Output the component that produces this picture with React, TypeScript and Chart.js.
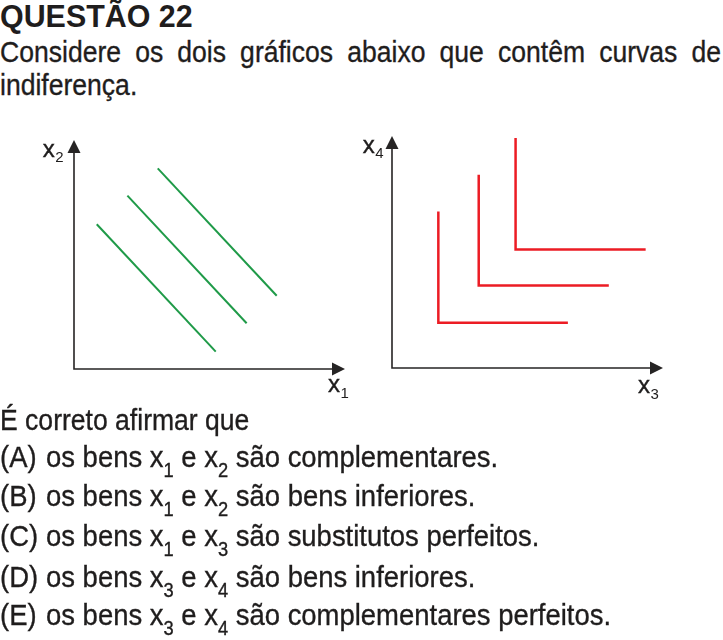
import React, { useEffect, useRef } from "react";
import { Chart, registerables } from "chart.js";

Chart.register(...registerables);

// ---------- text content ----------
const questionTitle = "QUESTÃO 22";
const introLines = [
  "Considere os dois gráficos abaixo que contêm curvas de",
  "indiferença.",
];
const promptLine = "É correto afirmar que";
const optionLabels = ["(A)", "(B)", "(C)", "(D)", "(E)"];
const optionFirstGood = ["1", "1", "1", "3", "3"];
const optionSecondGood = ["2", "2", "3", "4", "4"];
const optionEndings = [
  "são complementares.",
  "são bens inferiores.",
  "são substitutos perfeitos.",
  "são bens inferiores.",
  "são complementares perfeitos.",
];

// ---------- chart data (axis units 0..10) ----------
const axisMin = 0;
const axisMax = 10;

// graph 1: straight-line indifference curves (x1, x2)
const greenCurve1 = [
  { x: 0.84, y: 6.32 },
  { x: 5.23, y: 0.76 },
];
const greenCurve2 = [
  { x: 1.97, y: 7.57 },
  { x: 6.37, y: 2.0 },
];
const greenCurve3 = [
  { x: 3.09, y: 8.76 },
  { x: 7.48, y: 3.2 },
];

// graph 2: L-shaped indifference curves (x3, x4)
const redCurve1 = [
  { x: 1.71, y: 6.75 },
  { x: 1.71, y: 1.95 },
  { x: 6.49, y: 1.95 },
];
const redCurve2 = [
  { x: 3.2, y: 8.33 },
  { x: 3.2, y: 3.56 },
  { x: 8.0, y: 3.56 },
];
const redCurve3 = [
  { x: 4.56, y: 9.91 },
  { x: 4.56, y: 5.11 },
  { x: 9.36, y: 5.11 },
];

const TEXT_COLOR = "#1f1d1d";
const AXIS_COLOR = "#262424";
const GREEN = "#1f9a48";
const RED = "#ec1c24";
const FONT = '"Liberation Sans", Arial, Helvetica, sans-serif';

type LabelCfg = {
  yRightGap: number;
  yBaseDown: number;
  xLeftBack: number;
  xBaseDown: number;
};

function makeAxesPlugin(xSub: string, ySub: string, lab: LabelCfg) {
  return {
    id: "arrowAxes",
    afterDatasetsDraw(chart: any) {
      const { ctx, chartArea } = chart;
      const { left, right, top, bottom } = chartArea;
      const aLen = 13;
      const aHalf = 6.5;
      ctx.save();
      ctx.strokeStyle = AXIS_COLOR;
      ctx.fillStyle = AXIS_COLOR;
      ctx.lineWidth = 1.6;
      ctx.beginPath();
      ctx.moveTo(left, top + aLen - 1);
      ctx.lineTo(left, bottom);
      ctx.lineTo(right - aLen + 1, bottom);
      ctx.stroke();
      // y arrow
      ctx.beginPath();
      ctx.moveTo(left, top);
      ctx.lineTo(left - aHalf, top + aLen);
      ctx.lineTo(left + aHalf, top + aLen);
      ctx.closePath();
      ctx.fill();
      // x arrow
      ctx.beginPath();
      ctx.moveTo(right, bottom);
      ctx.lineTo(right - aLen, bottom - aHalf);
      ctx.lineTo(right - aLen, bottom + aHalf);
      ctx.closePath();
      ctx.fill();

      // labels
      ctx.fillStyle = TEXT_COLOR;
      ctx.strokeStyle = TEXT_COLOR;
      ctx.lineWidth = 0.4;
      ctx.textBaseline = "alphabetic";
      ctx.textAlign = "left";
      const mainFont = `24px ${FONT}`;
      const subFont = `15px ${FONT}`;
      // y label
      ctx.font = mainFont;
      const xw = ctx.measureText("x").width;
      ctx.font = subFont;
      const yw = ctx.measureText(ySub).width;
      const yStart = left - lab.yRightGap - yw - xw;
      ctx.font = mainFont;
      ctx.fillText("x", yStart, top + lab.yBaseDown);
      ctx.strokeText("x", yStart, top + lab.yBaseDown);
      ctx.font = subFont;
      ctx.fillText(ySub, yStart + xw + 0.5, top + lab.yBaseDown + 5);
      // x label
      const xStart = right - lab.xLeftBack;
      ctx.font = mainFont;
      ctx.fillText("x", xStart, bottom + lab.xBaseDown);
      ctx.strokeText("x", xStart, bottom + lab.xBaseDown);
      ctx.font = subFont;
      ctx.fillText(xSub, xStart + xw + 0.5, bottom + lab.xBaseDown + 6);
      ctx.restore();
    },
  };
}

type ChartProps = {
  left: number;
  top: number;
  width: number;
  height: number;
  padding: { left: number; top: number; right: number; bottom: number };
  curves: { x: number; y: number }[][];
  color: string;
  lineWidth: number;
  xSub: string;
  ySub: string;
  labels: LabelCfg;
};

function IndifferenceChart(p: ChartProps) {
  const ref = useRef<HTMLCanvasElement>(null);
  useEffect(() => {
    const chart = new Chart(ref.current as HTMLCanvasElement, {
      type: "scatter",
      data: {
        datasets: p.curves.map((c) => ({
          data: c,
          showLine: true,
          borderColor: p.color,
          backgroundColor: p.color,
          borderWidth: p.lineWidth,
          borderJoinStyle: "miter",
          borderCapStyle: "butt",
          pointRadius: 0,
          pointHoverRadius: 0,
          fill: false,
          tension: 0,
        })),
      } as any,
      options: {
        animation: false,
        responsive: false,
        maintainAspectRatio: false,
        events: [],
        layout: { padding: p.padding },
        plugins: { legend: { display: false }, tooltip: { enabled: false } },
        scales: {
          x: { type: "linear", min: axisMin, max: axisMax, display: false },
          y: { type: "linear", min: axisMin, max: axisMax, display: false },
        },
      } as any,
      plugins: [makeAxesPlugin(p.xSub, p.ySub, p.labels)],
    });
    return () => chart.destroy();
  }, []);
  return (
    <canvas
      ref={ref}
      width={p.width}
      height={p.height}
      style={{ position: "absolute", left: p.left, top: p.top, width: p.width, height: p.height }}
    />
  );
}

const BODY_SCALE = 0.885;
const OPTION_SCALE = 0.915;

function Line(props: { top: number; children: any; scale?: number; style?: any }) {
  return (
    <div
      style={{
        position: "absolute",
        left: 0,
        top: props.top,
        whiteSpace: "nowrap",
        fontSize: 30,
        lineHeight: "30px",
        WebkitTextStroke: "0.35px " + TEXT_COLOR,
        transform: `scaleX(${props.scale ?? BODY_SCALE})`,
        transformOrigin: "left top",
        ...props.style,
      }}
    >
      {props.children}
    </div>
  );
}

const optionTops = [441.6, 480.6, 520.6, 561.6, 599.6];

export default function App() {
  const sub = (t: string) => (
    <span style={{ fontSize: 20, position: "relative", top: 10 }}>{t}</span>
  );
  return (
    <div
      style={{
        position: "absolute",
        left: 0,
        top: 0,
        width: 723,
        height: 640,
        background: "#ffffff",
        color: TEXT_COLOR,
        fontFamily: FONT,
        overflow: "hidden",
      }}
    >
      <Line
        top={0}
        scale={0.95}
        style={{ fontSize: 32, lineHeight: "32px", fontWeight: "bold", WebkitTextStroke: "0px" }}
      >
        {questionTitle}
      </Line>
      <Line top={37}>
        <div style={{ width: 721 / BODY_SCALE, textAlign: "justify", textAlignLast: "justify" as any }}>
          {introLines[0]}
        </div>
      </Line>
      <Line top={70.3}>{introLines[1]}</Line>

      <IndifferenceChart
        left={20}
        top={120}
        width={340}
        height={285}
        padding={{ left: 54, top: 20, right: 15, bottom: 36 }}
        curves={[greenCurve1, greenCurve2, greenCurve3]}
        color={GREEN}
        lineWidth={2}
        xSub="1"
        ySub="2"
        labels={{ yRightGap: 11, yBaseDown: 17, xLeftBack: 17, xBaseDown: 23 }}
      />
      <IndifferenceChart
        left={360}
        top={120}
        width={363}
        height={285}
        padding={{ left: 32, top: 16, right: 60, bottom: 37 }}
        curves={[redCurve1, redCurve2, redCurve3]}
        color={RED}
        lineWidth={2.5}
        xSub="3"
        ySub="4"
        labels={{ yRightGap: 9, yBaseDown: 17, xLeftBack: 25, xBaseDown: 25 }}
      />

      <Line top={404.6}>{promptLine}</Line>
      {optionLabels.map((lab, i) => (
        <Line key={lab} top={optionTops[i]} scale={OPTION_SCALE}>
          <span style={{ display: "inline-block", width: 46 / OPTION_SCALE }}>{lab}</span>
          os bens x{sub(optionFirstGood[i])} e x{sub(optionSecondGood[i])} {optionEndings[i]}
        </Line>
      ))}
    </div>
  );
}
